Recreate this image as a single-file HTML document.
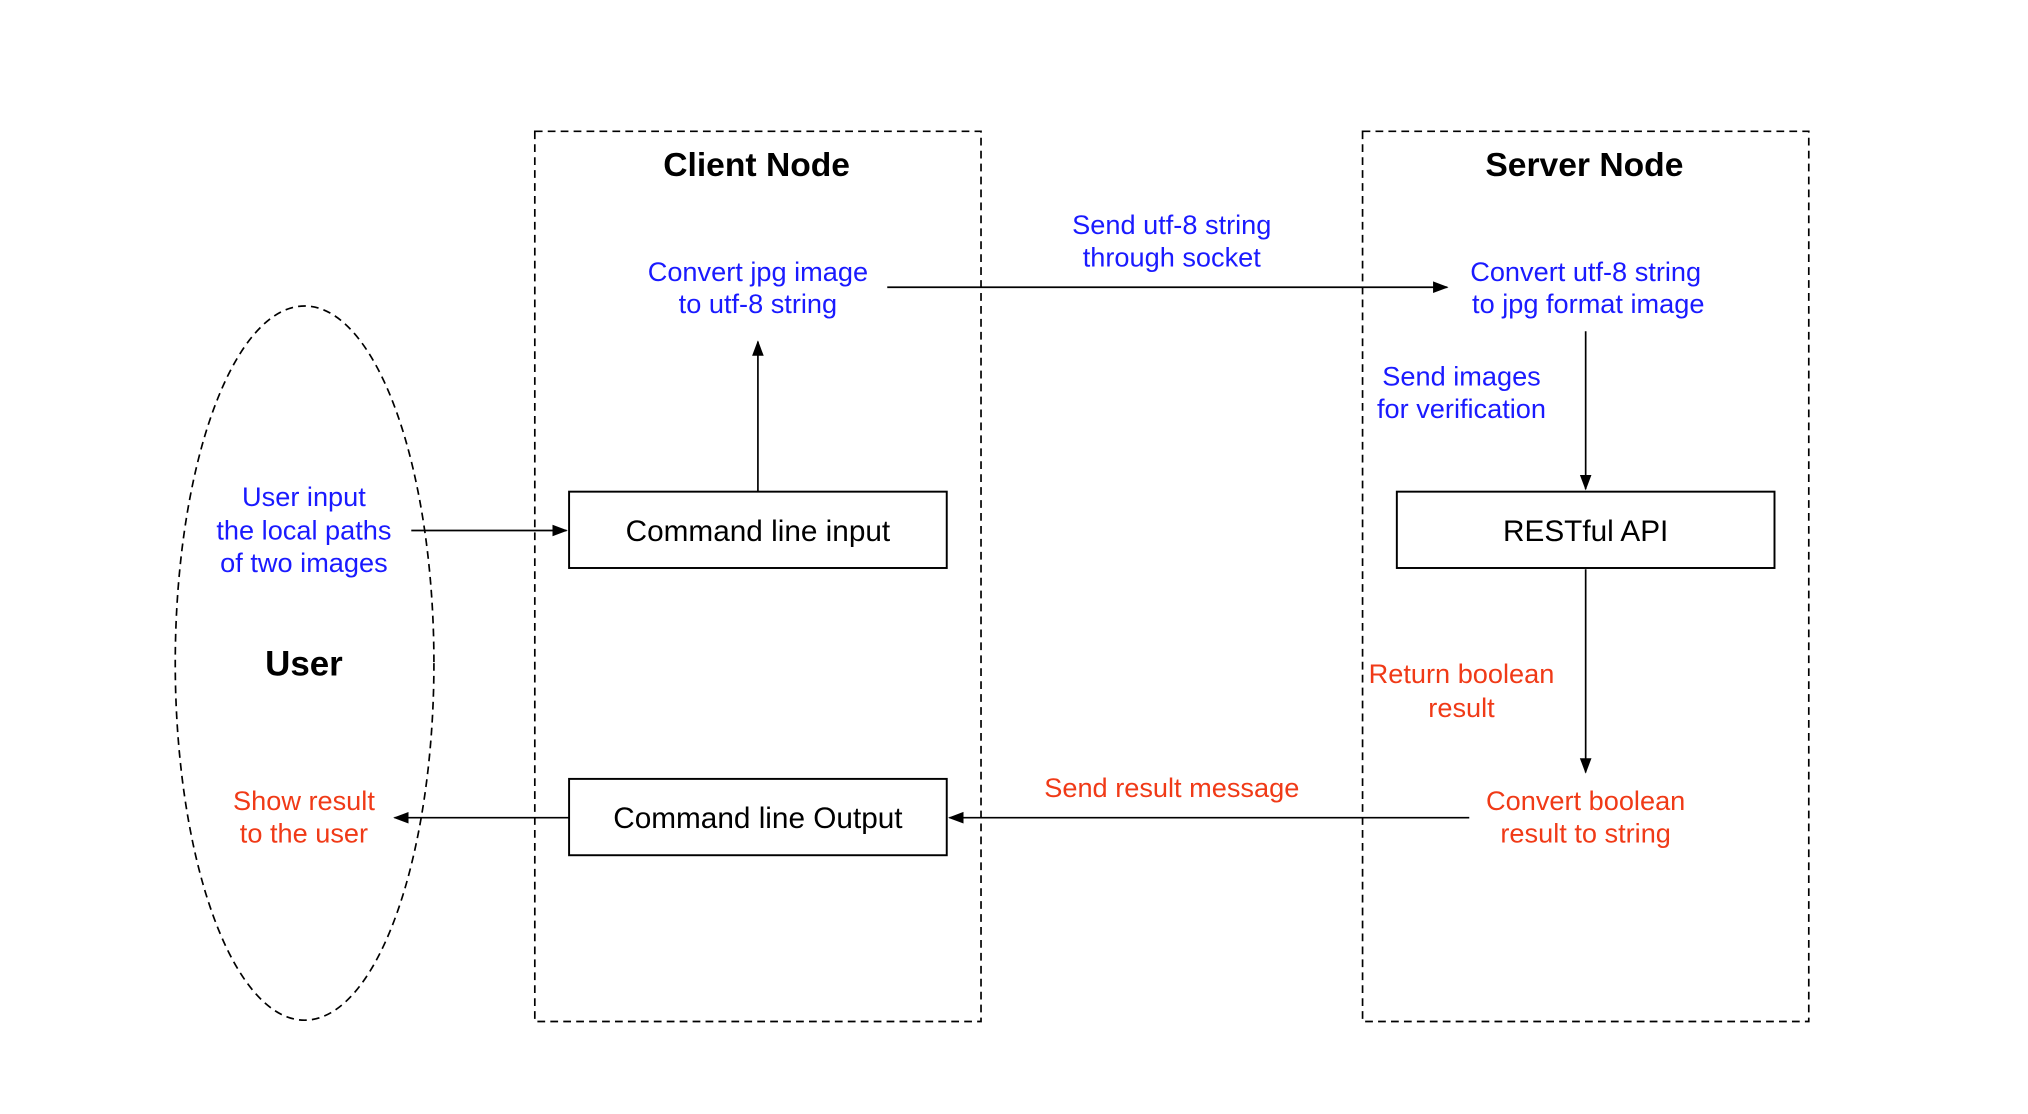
<!DOCTYPE html>
<html><head><style>html,body{margin:0;padding:0;background:#fff}svg{display:block}</style></head>
<body>
<svg width="2028" height="1114" viewBox="0 0 1568 861" preserveAspectRatio="none" xmlns="http://www.w3.org/2000/svg" font-family="Liberation Sans, sans-serif">
<defs><marker id="a" markerWidth="12" markerHeight="10" refX="11" refY="5" orient="auto" markerUnits="userSpaceOnUse"><path d="M0,0.5 L12,5 L0,9.5 z" fill="#000"/></marker></defs>
<g fill="none" stroke="#000" stroke-width="1.3">
<rect x="413.5" y="101.5" width="345" height="688" stroke-dasharray="6,4"/>
<rect x="1053.5" y="101.5" width="345" height="688" stroke-dasharray="6,4"/>
<ellipse cx="235.5" cy="512.5" rx="100" ry="276" stroke-dasharray="6,4"/>
<rect x="440" y="380" width="292" height="59" stroke-width="1.5"/>
<rect x="440" y="602" width="292" height="59" stroke-width="1.5"/>
<rect x="1080" y="380" width="292" height="59" stroke-width="1.5"/>
<line x1="318" y1="410" x2="438" y2="410" marker-end="url(#a)"/>
<line x1="586" y1="380" x2="586" y2="264" marker-end="url(#a)"/>
<line x1="686" y1="222" x2="1119" y2="222" marker-end="url(#a)"/>
<line x1="1226" y1="256" x2="1226" y2="378" marker-end="url(#a)"/>
<line x1="1226" y1="440" x2="1226" y2="597" marker-end="url(#a)"/>
<line x1="1136" y1="632" x2="734" y2="632" marker-end="url(#a)"/>
<line x1="440" y1="632" x2="305" y2="632" marker-end="url(#a)"/>
</g>
<g text-anchor="middle" font-size="21">
<text x="585" y="136" font-size="26" font-weight="bold">Client Node</text>
<text x="1225" y="136" font-size="26" font-weight="bold">Server Node</text>
<text x="235" y="522" font-size="27" font-weight="bold">User</text>
<text x="586" y="418" font-size="23">Command line input</text>
<text x="586" y="640" font-size="23">Command line Output</text>
<text x="1226" y="418" font-size="23">RESTful API</text>
<g fill="#1a1aff">
<text x="586" y="217">Convert jpg image</text><text x="586" y="242">to utf-8 string</text>
<text x="906" y="181">Send utf-8 string</text><text x="906" y="206">through socket</text>
<text x="1226" y="217">Convert utf-8 string</text><text x="1228" y="242">to jpg format image</text>
<text x="1130" y="298">Send images</text><text x="1130" y="323">for verification</text>
<text x="235" y="391">User input</text><text x="235" y="417">the local paths</text><text x="235" y="442">of two images</text>
</g>
<g fill="#f03a17">
<text x="1130" y="528">Return boolean</text><text x="1130" y="554">result</text>
<text x="906" y="616">Send result message</text>
<text x="1226" y="626">Convert boolean</text><text x="1226" y="651">result to string</text>
<text x="235" y="626">Show result</text><text x="235" y="651">to the user</text>
</g>
</g>
</svg>
</body></html>
